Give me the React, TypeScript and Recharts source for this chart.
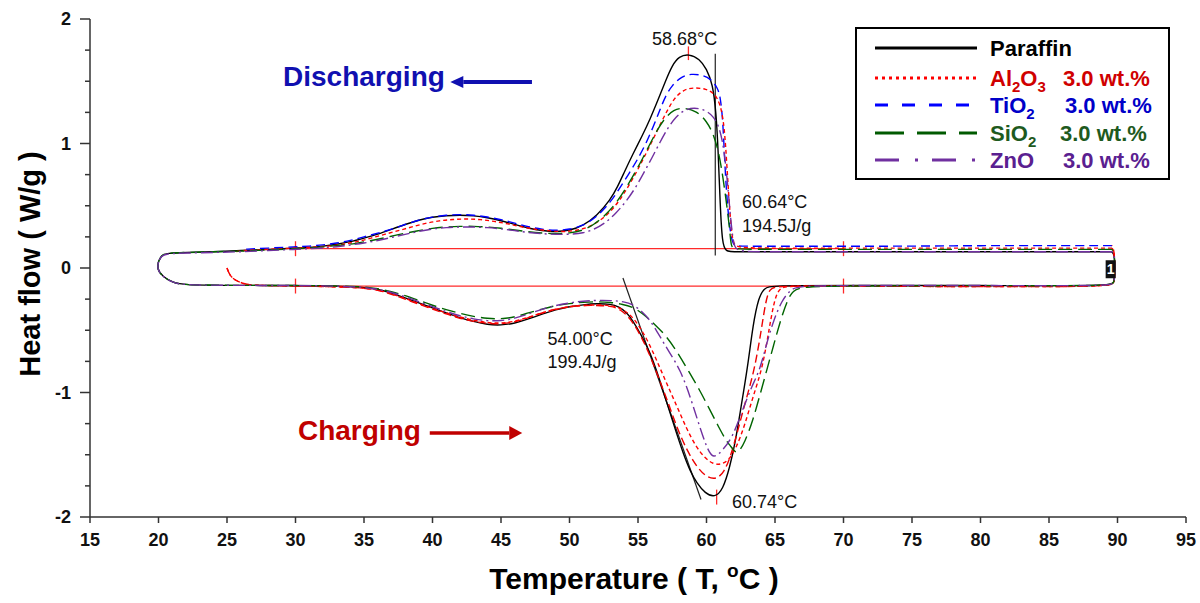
import React from 'react';
import { LineChart, Line, XAxis, YAxis, ReferenceLine, ReferenceDot, Legend } from 'recharts';

type Pt = [number, number];

const FONT = 'Liberation Sans, Arial, Helvetica, sans-serif';

const xTicks = [15, 20, 25, 30, 35, 40, 45, 50, 55, 60, 65, 70, 75, 80, 85, 90, 95];
const yTicks = [-2, -1.75, -1.5, -1.25, -1, -0.75, -0.5, -0.25, 0, 0.25, 0.5, 0.75, 1, 1.25, 1.5, 1.75, 2];

// ---------- Discharging (cooling) curves, T from high to low ----------
const paraffinDischarge: Pt[] = [
  [89.6, 0.13], [85, 0.13], [80, 0.13], [75, 0.13], [70, 0.13], [65, 0.13], [62, 0.13], [61.4, 0.13], [61.15, 0.2],
  [61.0, 0.5], [60.85, 0.95], [60.7, 1.25], [60.45, 1.48], [60.0, 1.6], [59.5, 1.68], [58.7, 1.72], [58.0, 1.7],
  [57.5, 1.63], [57.0, 1.5], [56.5, 1.36], [55.9, 1.2], [55.3, 1.06], [54.6, 0.91], [54.0, 0.77], [53.5, 0.65],
  [53.0, 0.55], [52.0, 0.42], [51.0, 0.34], [50.0, 0.3], [49.0, 0.29], [48.0, 0.3], [47.0, 0.32], [46.0, 0.35],
  [45.0, 0.38], [44.0, 0.405], [43.0, 0.42], [42.0, 0.425], [41.0, 0.42], [40.0, 0.41], [39.0, 0.385], [38.0, 0.35],
  [37.0, 0.31], [36.0, 0.27], [35.0, 0.24], [34.0, 0.21], [33.0, 0.19], [32.0, 0.175], [31.0, 0.165], [30.0, 0.16],
  [28.0, 0.15], [26.0, 0.14], [24.0, 0.13], [22.0, 0.125], [20.6, 0.12], [20.2, 0.1], [20.0, 0.05],
];
const al2o3Discharge: Pt[] = [
  [89.6, 0.16], [80, 0.16], [70, 0.16], [65, 0.16], [62.2, 0.16], [61.9, 0.2], [61.7, 0.45], [61.5, 0.8], [61.3, 1.15],
  [61.0, 1.32], [60.6, 1.4], [60.0, 1.44], [59.0, 1.45], [58.3, 1.43], [57.7, 1.37], [57.2, 1.28], [56.6, 1.15],
  [56.0, 1.01], [55.4, 0.88], [54.8, 0.75], [54.0, 0.6], [53.3, 0.49], [52.5, 0.4], [51.5, 0.33], [50.5, 0.3],
  [49.5, 0.29], [48.5, 0.3], [47.5, 0.31], [46.5, 0.33], [45.5, 0.355], [44.5, 0.375], [43.5, 0.39], [42.5, 0.395],
  [41.5, 0.39], [40.5, 0.38], [39.5, 0.36], [38.5, 0.33], [37.5, 0.3], [36.5, 0.27], [35.5, 0.24], [34.5, 0.21],
  [33.5, 0.19], [32.5, 0.175], [31, 0.165], [30, 0.16], [28, 0.15], [26, 0.14], [25.6, 0.13],
];
const tio2Discharge: Pt[] = [
  [89.6, 0.18], [85, 0.18], [80, 0.18], [75, 0.175], [70, 0.175], [65, 0.175], [62.2, 0.175], [61.9, 0.18],
  [61.6, 0.39], [61.35, 0.79], [61.2, 1.19], [61.0, 1.38], [60.8, 1.45], [60.3, 1.52], [59.7, 1.55], [58.9, 1.56],
  [58.2, 1.54], [57.5, 1.47], [57.0, 1.38], [56.6, 1.27], [56.1, 1.13], [55.5, 0.98], [54.9, 0.86], [54.3, 0.75],
  [53.6, 0.63], [53.0, 0.53], [52.0, 0.41], [51.0, 0.34], [50, 0.31], [49, 0.3], [48, 0.31], [47, 0.33], [46, 0.36],
  [45, 0.39], [44, 0.41], [43, 0.425], [42, 0.43], [41, 0.425], [40, 0.41], [39, 0.385], [38, 0.35], [37, 0.31],
  [36, 0.28], [35, 0.25], [34, 0.22], [33, 0.2], [32, 0.185], [31, 0.175], [30, 0.17], [28, 0.16], [26.2, 0.15],
];
const sio2Discharge: Pt[] = [
  [89.6, 0.15], [80, 0.15], [70, 0.15], [65, 0.15], [62, 0.15], [61.8, 0.17], [61.7, 0.3], [61.5, 0.49], [61.2, 0.73],
  [60.9, 0.93], [60.5, 1.08], [60.0, 1.18], [59.3, 1.26], [58.3, 1.29], [57.6, 1.27], [57.0, 1.21], [56.4, 1.11],
  [55.8, 0.98], [55.2, 0.85], [54.6, 0.73], [54.0, 0.62], [53.4, 0.52], [52.6, 0.42], [51.8, 0.35], [51, 0.3],
  [50, 0.28], [49, 0.275], [48, 0.28], [47, 0.29], [46, 0.305], [45, 0.32], [44, 0.33], [43, 0.335], [42, 0.335],
  [41, 0.33], [40, 0.32], [39, 0.3], [38, 0.28], [37, 0.255], [36, 0.23], [35, 0.21], [34, 0.19], [33, 0.18],
  [32, 0.17], [31, 0.16], [30, 0.155], [28, 0.145], [26, 0.135], [24, 0.13], [22, 0.125], [20.5, 0.12], [20.2, 0.1],
  [20.0, 0.05],
];
const znoDischarge: Pt[] = [
  [89.6, 0.13], [80, 0.13], [70, 0.13], [65, 0.13], [62.3, 0.13], [62.0, 0.17], [61.8, 0.35], [61.6, 0.6],
  [61.35, 0.9], [61.0, 1.12], [60.5, 1.22], [59.9, 1.27], [59.1, 1.29], [58.4, 1.27], [57.8, 1.22], [57.2, 1.13],
  [56.6, 1.01], [56.0, 0.88], [55.4, 0.76], [54.8, 0.64], [54.1, 0.53], [53.4, 0.44], [52.6, 0.36], [51.8, 0.31],
  [51, 0.28], [50, 0.27], [49, 0.27], [48, 0.275], [47, 0.285], [46, 0.3], [45, 0.315], [44, 0.325], [43, 0.33],
  [42, 0.33], [41, 0.325], [40, 0.315], [39, 0.295], [38, 0.27], [37, 0.245], [36, 0.22], [35, 0.2], [34, 0.185],
  [33, 0.17], [32, 0.16], [31, 0.155], [30, 0.15], [28, 0.14], [26, 0.13], [24, 0.125], [22, 0.12], [20.5, 0.115],
  [20.2, 0.095], [20.0, 0.05],
];

// ---------- Charging (heating) curves, T from low to high ----------
const paraffinCharge: Pt[] = [
  [20.0, 0.05], [19.9, -0.01], [20.3, -0.07], [21.1, -0.12], [21.8, -0.135], [25, -0.14], [30, -0.14], [33, -0.145],
  [35, -0.155], [36, -0.17], [37, -0.2], [38, -0.24], [39, -0.28], [40, -0.32], [41, -0.36], [42, -0.4], [43, -0.43],
  [44, -0.455], [45, -0.46], [46, -0.445], [47, -0.41], [48, -0.37], [49, -0.335], [50, -0.31], [51, -0.295],
  [52, -0.285], [53, -0.29], [53.6, -0.31], [54.2, -0.36], [54.6, -0.42], [55.2, -0.53], [55.9, -0.68], [56.5, -0.87],
  [57.1, -1.08], [57.7, -1.29], [58.3, -1.49], [58.8, -1.63], [59.3, -1.73], [59.9, -1.81], [60.6, -1.845],
  [61.2, -1.78], [61.7, -1.6], [62.1, -1.4], [62.5, -1.13], [63.0, -0.8], [63.4, -0.45], [63.8, -0.24], [64.2, -0.16],
  [64.8, -0.14], [70, -0.14], [80, -0.14], [89.5, -0.145], [89.75, -0.12], [89.8, -0.05], [89.8, 0.05],
  [89.75, 0.11], [89.6, 0.13],
];
const al2o3Charge: Pt[] = [
  [25.0, 0.0], [25.2, -0.06], [25.6, -0.1], [26.3, -0.13], [27, -0.14], [30, -0.145], [33, -0.15], [35, -0.16],
  [36, -0.175], [37, -0.205], [38, -0.245], [39, -0.285], [40, -0.325], [41, -0.36], [42, -0.395], [43, -0.42],
  [44, -0.44], [45, -0.445], [46, -0.43], [47, -0.395], [48, -0.36], [49, -0.33], [50, -0.31], [51, -0.3],
  [52, -0.295], [53, -0.3], [53.7, -0.32], [54.4, -0.37], [55.0, -0.45], [55.7, -0.58], [56.4, -0.75], [57.1, -0.93],
  [57.8, -1.1], [58.5, -1.28], [59.2, -1.43], [59.9, -1.53], [60.5, -1.575], [61.0, -1.58], [61.6, -1.55],
  [62.2, -1.44], [62.8, -1.26], [63.4, -1.03], [64.1, -0.8], [64.6, -0.47], [65.0, -0.23], [65.4, -0.155],
  [66, -0.145], [70, -0.145], [80, -0.15], [89.5, -0.15], [89.75, -0.12], [89.8, -0.05], [89.8, 0.05],
  [89.75, 0.13], [89.6, 0.16],
];
const tio2Charge: Pt[] = [
  [25.0, 0.0], [25.2, -0.06], [25.6, -0.1], [26.3, -0.13], [27, -0.14], [30, -0.145], [33, -0.15], [35, -0.16],
  [36, -0.175], [37, -0.21], [38, -0.25], [39, -0.29], [40, -0.33], [41, -0.37], [42, -0.405], [43, -0.43],
  [44, -0.445], [45, -0.45], [46, -0.435], [47, -0.4], [48, -0.36], [49, -0.33], [50, -0.31], [51, -0.3], [52, -0.3],
  [53, -0.305], [53.7, -0.33], [54.4, -0.4], [55.1, -0.52], [55.8, -0.68], [56.5, -0.88], [57.2, -1.08], [57.9, -1.3],
  [58.6, -1.47], [59.3, -1.6], [60.0, -1.68], [60.7, -1.7], [61.3, -1.64], [61.8, -1.5], [62.3, -1.3], [62.9, -1.05],
  [63.5, -0.82], [64.0, -0.5], [64.3, -0.28], [64.6, -0.16], [65.2, -0.145], [70, -0.145], [80, -0.15],
  [89.5, -0.15], [89.75, -0.12], [89.8, -0.05], [89.8, 0.05], [89.75, 0.14], [89.6, 0.18],
];
const sio2Charge: Pt[] = [
  [20.0, 0.05], [19.9, -0.01], [20.3, -0.07], [21.1, -0.12], [21.8, -0.135], [25, -0.14], [30, -0.14], [33, -0.145],
  [35, -0.15], [36, -0.165], [37, -0.19], [38, -0.22], [39, -0.26], [40, -0.3], [41, -0.335], [42, -0.365],
  [43, -0.39], [44, -0.405], [45, -0.41], [46, -0.395], [47, -0.36], [48, -0.33], [49, -0.3], [50, -0.285],
  [51, -0.275], [52, -0.27], [53, -0.275], [53.8, -0.29], [54.6, -0.31], [55.4, -0.37], [56.2, -0.45], [57.1, -0.55],
  [57.9, -0.68], [58.7, -0.83], [59.5, -0.98], [60.2, -1.13], [60.9, -1.28], [61.5, -1.4], [61.7, -1.42],
  [62.0, -1.47], [62.3, -1.49], [62.8, -1.4], [63.4, -1.22], [63.9, -1.02], [64.4, -0.82], [64.9, -0.62],
  [65.4, -0.42], [65.9, -0.26], [66.3, -0.18], [67, -0.15], [70, -0.145], [80, -0.14], [89.5, -0.145],
  [89.75, -0.12], [89.8, -0.05], [89.8, 0.05], [89.75, 0.12], [89.6, 0.15],
];
const znoCharge: Pt[] = [
  [20.0, 0.05], [19.9, -0.01], [20.3, -0.07], [21.1, -0.12], [21.8, -0.135], [25, -0.14], [30, -0.14], [33, -0.145],
  [35, -0.155], [36, -0.17], [37, -0.195], [38, -0.23], [39, -0.27], [40, -0.31], [41, -0.35], [42, -0.385],
  [43, -0.41], [44, -0.425], [45, -0.425], [46, -0.405], [47, -0.37], [48, -0.33], [49, -0.3], [50, -0.28],
  [51, -0.265], [52, -0.26], [53, -0.26], [54, -0.27], [54.6, -0.29], [55.3, -0.35], [55.9, -0.42], [56.6, -0.55],
  [57.3, -0.68], [58.1, -0.82], [58.8, -1.03], [59.4, -1.24], [60.0, -1.44], [60.5, -1.54], [61.2, -1.46],
  [61.9, -1.36], [62.6, -1.15], [63.3, -0.95], [63.9, -0.82], [64.4, -0.6], [64.9, -0.42], [65.5, -0.26],
  [66.1, -0.18], [66.6, -0.145], [70, -0.14], [80, -0.14], [89.5, -0.145], [89.75, -0.12], [89.8, -0.05],
  [89.8, 0.05], [89.75, 0.11], [89.6, 0.13],
];

// Annotation values
const peakDischargeT = 58.68;
const onsetDischargeT = 60.64;
const peakChargeT = 60.74;
const baselineStartT = 30;
const baselineEndT = 70;
const upperBaseline = 0.155;
const lowerBaseline = -0.145;

const legendItems = [
  { name: [['Paraffin', false]], amount: '', color: '#000000', line: '#000000', dash: '' },
  { name: [['Al', false], ['2', true], ['O', false], ['3', true]], amount: '3.0 wt.%', color: '#d00000', line: '#ff0000', dash: '3 4' },
  { name: [['TiO', false], ['2', true]], amount: '3.0 wt.%', color: '#0000c8', line: '#0000ff', dash: '13 14' },
  { name: [['SiO', false], ['2', true]], amount: '3.0 wt.%', color: '#1e5a1e', line: '#005a00', dash: '29 13' },
  { name: [['ZnO', false]], amount: '3.0 wt.%', color: '#5a2090', line: '#7030a0', dash: '24 16 3 14' },
];

const rows = (pts: Pt[]) => pts.map(([T, v]) => ({ T, v }));

const series = [
  { key: 'pd', data: paraffinDischarge, stroke: '#000000', dash: undefined as string | undefined, w: 1.4 },
  { key: 'td', data: tio2Discharge, stroke: '#0000ff', dash: '9 5', w: 1.4 },
  { key: 'ad', data: al2o3Discharge, stroke: '#ff0000', dash: '4 3', w: 1.4 },
  { key: 'sd', data: sio2Discharge, stroke: '#006400', dash: '14 6', w: 1.4 },
  { key: 'zd', data: znoDischarge, stroke: '#7030a0', dash: '12 4 2 4', w: 1.4 },
  { key: 'pc', data: paraffinCharge, stroke: '#000000', dash: undefined, w: 1.4 },
  { key: 'tc', data: tio2Charge, stroke: '#ee0000', dash: '8 4', w: 1.4 },
  { key: 'ac', data: al2o3Charge, stroke: '#ff0000', dash: '4 3', w: 1.4 },
  { key: 'sc', data: sio2Charge, stroke: '#006400', dash: '14 6', w: 1.4 },
  { key: 'zc', data: znoCharge, stroke: '#7030a0', dash: '12 4 2 4', w: 1.4 },
];

const YTick = (props: any) => {
  const { x, y, payload } = props;
  const major = Number.isInteger(payload.value);
  return (
    <g>
      <line x1={x - (major ? 10 : 5)} x2={x} y1={y} y2={y} stroke="#333" strokeWidth={1.5} />
      {major && (
        <text x={x - 19} y={y} dy="0.35em" textAnchor="end" fontSize={18} fontWeight="bold" fontFamily={FONT} fill="#111">
          {payload.value}
        </text>
      )}
    </g>
  );
};

const XTitle = (props: any) => {
  const vb = props.viewBox || { x: 90, y: 517, width: 1096, height: 86 };
  return (
    <text x={vb.x + vb.width / 2 - 4} y={vb.y + 72} textAnchor="middle" fontSize={30} fontWeight="bold" fontFamily={FONT} fill="#000">
      Temperature ( T, <tspan dy={-12} fontSize={19}>o</tspan><tspan dy={12}>C )</tspan>
    </text>
  );
};

const YTitle = (props: any) => {
  const vb = props.viewBox || { x: 0, y: 19, width: 90, height: 498 };
  const cx = vb.x + 30;
  const cy = vb.y + vb.height / 2 - 4;
  return (
    <text x={cx} y={cy} transform={`rotate(-90 ${cx} ${cy})`} textAnchor="middle" dominantBaseline="central" fontSize={29} fontWeight="bold" fontFamily={FONT} fill="#000">
      Heat flow ( W/g )
    </text>
  );
};

const textShape = (txt: string, anchor: string, size: number, weight: string, color: string) => (p: any) => (
  <text x={p.cx} y={p.cy} textAnchor={anchor} fontSize={size} fontWeight={weight} fontFamily={FONT} fill={color}>
    {txt}
  </text>
);

const arrowShape = (color: string, width: number, headLen: number, headHalf: number) => (p: any) => {
  const { x1, y1, x2, y2 } = p;
  const dx = x2 - x1;
  const dy = y2 - y1;
  const len = Math.sqrt(dx * dx + dy * dy) || 1;
  const ux = dx / len;
  const uy = dy / len;
  const bx = x2 - ux * headLen;
  const by = y2 - uy * headLen;
  const pts = `${x2},${y2} ${bx - uy * headHalf},${by + ux * headHalf} ${bx + uy * headHalf},${by - ux * headHalf}`;
  return (
    <g>
      <line x1={x1} y1={y1} x2={bx} y2={by} stroke={color} strokeWidth={width} />
      <polygon points={pts} fill={color} />
    </g>
  );
};

const boxShape = (p: any) => (
  <g>
    <rect x={p.cx - 5} y={p.cy - 9} width={10} height={18} fill="#111" />
    <text x={p.cx} y={p.cy + 5} textAnchor="middle" fontSize={14} fontWeight="bold" fontFamily={FONT} fill="#fff">1</text>
  </g>
);

const renderLegend = () => {
  const rowY = [21, 51, 78, 106, 133];
  const amountX = [0, 208, 210, 205, 208];
  return (
    <svg width={317} height={155} style={{ display: 'block' }}>
      <rect x={1} y={1} width={313} height={151} fill="#fff" stroke="#000" strokeWidth={2} />
      {legendItems.map((it, i) => (
        <g key={i}>
          <line x1={20} x2={122} y1={rowY[i]} y2={rowY[i]} stroke={it.line} strokeWidth={3} strokeDasharray={it.dash || undefined} />
          <text x={135} y={rowY[i] + 8} fontSize={22} fontWeight="bold" fontFamily={FONT} fill={it.color}>
            {it.name.map(([s, sub], j) => (
              <tspan key={j} dy={sub ? 6 : (j > 0 && it.name[j - 1][1] ? -6 : 0)} fontSize={sub ? 15 : 22}>{s as string}</tspan>
            ))}
          </text>
          {it.amount && (
            <text x={amountX[i]} y={rowY[i] + 8} fontSize={22} fontWeight="bold" fontFamily={FONT} fill={it.color}>{it.amount}</text>
          )}
        </g>
      ))}
    </svg>
  );
};

export default function App() {
  return (
    <div style={{ position: 'absolute', left: 0, top: 0, width: 1200, height: 603, background: '#fff' }}>
      <LineChart width={1200} height={603} margin={{ top: 19, right: 14, bottom: 0, left: 0 }}>
        <XAxis
          dataKey="T"
          type="number"
          domain={[15, 95]}
          ticks={xTicks}
          interval={0}
          allowDuplicatedCategory={false}
          height={86}
          tickSize={6}
          tickMargin={10}
          stroke="#333"
          axisLine={{ stroke: '#333', strokeWidth: 1.5 }}
          tickLine={{ stroke: '#333', strokeWidth: 1.5 }}
          tick={{ fontSize: 18, fontWeight: 'bold', fill: '#111', fontFamily: FONT }}
          label={XTitle}
        />
        <XAxis xAxisId="top" orientation="top" type="number" domain={[15, 95]} height={0} tick={false} tickLine={false} axisLine={{ stroke: '#444', strokeWidth: 1.2 }} />
        <YAxis
          type="number"
          domain={[-2, 2]}
          ticks={yTicks}
          interval={0}
          width={90}
          tickSize={0}
          tickMargin={0}
          tickLine={false}
          axisLine={{ stroke: '#333', strokeWidth: 1.5 }}
          tick={<YTick />}
          label={YTitle}
        />
        <YAxis yAxisId="right" orientation="right" type="number" domain={[-2, 2]} width={0} tick={false} tickLine={false} axisLine={{ stroke: '#444', strokeWidth: 1.2 }} />

        {/* baselines with end marks */}
        <ReferenceLine segment={[{ x: baselineStartT, y: upperBaseline }, { x: baselineEndT, y: upperBaseline }]} stroke="#ff2a2a" strokeWidth={1.3} />
        <ReferenceLine segment={[{ x: baselineStartT, y: lowerBaseline }, { x: baselineEndT, y: lowerBaseline }]} stroke="#ff2a2a" strokeWidth={1.3} />
        <ReferenceLine segment={[{ x: baselineStartT, y: upperBaseline - 0.06 }, { x: baselineStartT, y: upperBaseline + 0.06 }]} stroke="#ff2a2a" strokeWidth={1.3} />
        <ReferenceLine segment={[{ x: baselineEndT, y: upperBaseline - 0.06 }, { x: baselineEndT, y: upperBaseline + 0.06 }]} stroke="#ff2a2a" strokeWidth={1.3} />
        <ReferenceLine segment={[{ x: baselineStartT, y: lowerBaseline - 0.06 }, { x: baselineStartT, y: lowerBaseline + 0.06 }]} stroke="#ff2a2a" strokeWidth={1.3} />
        <ReferenceLine segment={[{ x: baselineEndT, y: lowerBaseline - 0.06 }, { x: baselineEndT, y: lowerBaseline + 0.06 }]} stroke="#ff2a2a" strokeWidth={1.3} />
        {/* peak marks */}
        <ReferenceLine segment={[{ x: peakDischargeT, y: 1.67 }, { x: peakDischargeT, y: 1.78 }]} stroke="#ff2a2a" strokeWidth={1.3} />
        <ReferenceLine segment={[{ x: peakChargeT, y: -1.78 }, { x: peakChargeT, y: -1.9 }]} stroke="#ff2a2a" strokeWidth={1.3} />
        {/* tangent lines */}
        <ReferenceLine segment={[{ x: onsetDischargeT, y: 1.72 }, { x: onsetDischargeT, y: 0.1 }]} stroke="#222" strokeWidth={1.2} />
        <ReferenceLine segment={[{ x: 53.9, y: -0.08 }, { x: 59.6, y: -1.86 }]} stroke="#222" strokeWidth={1.2} />

        {series.map((s) => (
          <Line
            key={s.key}
            data={rows(s.data)}
            dataKey="v"
            type="basis"
            stroke={s.stroke}
            strokeWidth={s.w}
            strokeDasharray={s.dash}
            dot={false}
            activeDot={false}
            isAnimationActive={false}
            legendType="none"
          />
        ))}

        {/* arrows */}
        <ReferenceLine segment={[{ x: 47.26, y: 1.494 }, { x: 41.3, y: 1.494 }]} stroke="#1010b0" shape={arrowShape('#1010b0', 4, 13, 6)} />
        <ReferenceLine segment={[{ x: 39.8, y: -1.325 }, { x: 46.55, y: -1.325 }]} stroke="#c00000" shape={arrowShape('#c00000', 3.5, 13, 7)} />

        {/* texts */}
        <ReferenceDot x={29.09} y={1.462} r={1} shape={textShape('Discharging', 'start', 28, 'bold', '#1010b0')} />
        <ReferenceDot x={30.18} y={-1.38} r={1} shape={textShape('Charging', 'start', 28, 'bold', '#c00000')} />
        <ReferenceDot x={58.4} y={1.79} r={1} shape={textShape('58.68°C', 'middle', 18, 'normal', '#111')} />
        <ReferenceDot x={62.6} y={0.48} r={1} shape={textShape('60.64°C', 'start', 18, 'normal', '#111')} />
        <ReferenceDot x={62.6} y={0.29} r={1} shape={textShape('194.5J/g', 'start', 18, 'normal', '#111')} />
        <ReferenceDot x={48.4} y={-0.62} r={1} shape={textShape('54.00°C', 'start', 18, 'normal', '#111')} />
        <ReferenceDot x={48.4} y={-0.8} r={1} shape={textShape('199.4J/g', 'start', 18, 'normal', '#111')} />
        <ReferenceDot x={61.86} y={-1.93} r={1} shape={textShape('60.74°C', 'start', 18, 'normal', '#111')} />
        <ReferenceDot x={89.5} y={-0.01} r={1} shape={boxShape} />

        <Legend
          layout="horizontal"
          verticalAlign="middle"
          align="center"
          content={renderLegend}
          wrapperStyle={{ left: 855, top: 27, width: 317, height: 155 }}
        />
      </LineChart>
    </div>
  );
}
